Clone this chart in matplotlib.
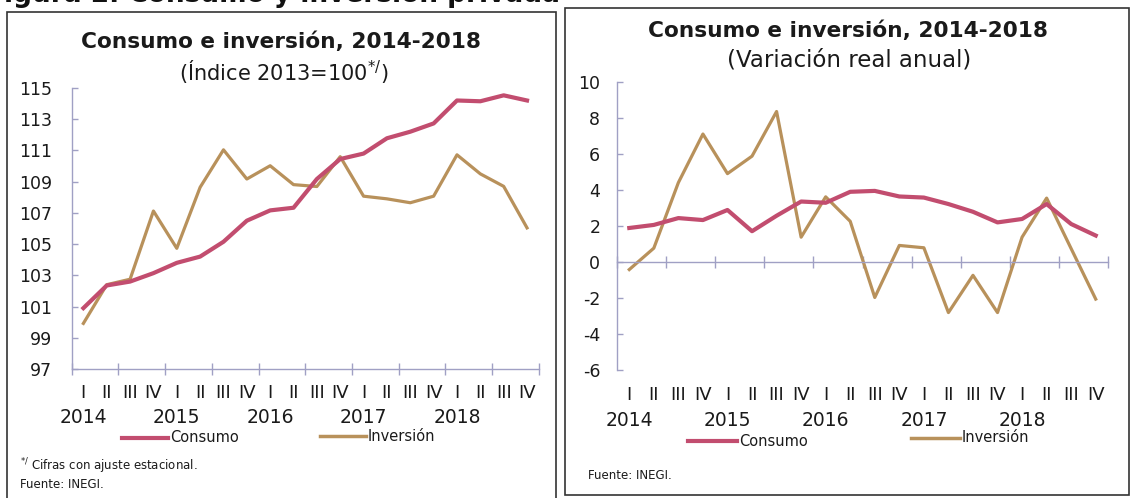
import matplotlib
matplotlib.use("Agg")
import matplotlib.pyplot as plt
from matplotlib.lines import Line2D
from matplotlib.patches import Rectangle
import matplotlib.transforms as mtransforms

# ---------------- data ----------------
quarters = ["I", "II", "III", "IV"] * 5
years = ["2014", "2015", "2016", "2017", "2018"]

consumo_indice = [100.9, 102.35, 102.6, 103.14, 103.8, 104.2, 105.15, 106.5, 107.16, 107.33,
                  109.17, 110.45, 110.8, 111.78, 112.2, 112.73, 114.2, 114.15, 114.53, 114.2]
inversion_indice = [99.92, 102.4, 102.75, 107.12, 104.73, 108.64, 111.04, 109.17, 110.02, 108.81,
                    108.69, 110.6, 108.07, 107.9, 107.65, 108.07, 110.72, 109.5, 108.7, 106.04]

consumo_var = [1.89, 2.06, 2.44, 2.33, 2.89, 1.71, 2.57, 3.36, 3.29, 3.9,
               3.95, 3.64, 3.58, 3.22, 2.79, 2.2, 2.39, 3.22, 2.11, 1.47]
inversion_var = [-0.42, 0.77, 4.41, 7.11, 4.91, 5.88, 8.36, 1.38, 3.62, 2.26,
                 -1.97, 0.92, 0.79, -2.81, -0.74, -2.81, 1.38, 3.55, 0.74, -2.06]

left_yticks = [97, 99, 101, 103, 105, 107, 109, 111, 113, 115]
right_yticks = [-6, -4, -2, 0, 2, 4, 6, 8, 10]

# ---------------- style ----------------
W, H = 1133, 498
C_CONS = "#c24d6f"
C_INV = "#b8915b"
C_AX = "#a0a0c4"
FONT = "DejaVu Sans"
plt.rcParams["font.family"] = [FONT]
plt.rcParams["axes.unicode_minus"] = False

fig = plt.figure(figsize=(W / 100, H / 100), dpi=100)
fig.patch.set_facecolor("white")


def fx(px):
    return px / W


def fy(py):
    return 1 - py / H


# partially visible heading at the very top (cut off by the scan in the original)
fig.text(fx(-14), fy(1.5), "Figura 2. Consumo y inversión privada", fontsize=19,
         fontweight="bold", color="#111111", ha="left", va="baseline", zorder=-2)

# panel boxes
fig.add_artist(Rectangle((fx(7), fy(505)), fx(556) - fx(7), fy(12) - fy(505),
                         transform=fig.transFigure, facecolor="white",
                         edgecolor="#333333", lw=1.2, zorder=-1))
fig.add_artist(Rectangle((fx(565), fy(495)), fx(1129) - fx(565), fy(8) - fy(495),
                         transform=fig.transFigure, facecolor="white",
                         edgecolor="#333333", lw=1.2, zorder=-1))


def style_axes(ax, zero_axis=False):
    ax.set_zorder(2)
    ax.set_facecolor("none")
    for s in ["top", "right"]:
        ax.spines[s].set_visible(False)
    ax.spines["left"].set_color(C_AX)
    ax.spines["bottom"].set_color(C_AX)
    ax.spines["left"].set_linewidth(1.0)
    ax.spines["bottom"].set_linewidth(1.0)
    if zero_axis:
        ax.spines["bottom"].set_position(("data", 0))
    ax.set_xlim(-0.5, 19.5)
    ax.set_xticks([-0.5 + 2 * k for k in range(11)])
    ax.set_xticklabels([])
    ax.tick_params(axis="x", direction="inout", length=8, width=1.0, color=C_AX)
    ax.tick_params(axis="y", direction="in", length=4, width=1.0, color=C_AX,
                   labelsize=12.5, labelcolor="#1a1a1a")


def quarter_labels(ax, y_roman, y_year):
    tr = mtransforms.blended_transform_factory(ax.transData, fig.transFigure)
    for i, q in enumerate(quarters):
        ax.text(i, fy(y_roman), q, transform=tr, ha="center", va="center",
                fontsize=13, color="#1a1a1a", clip_on=False)
    for k, yv in enumerate(years):
        ax.text(4 * k, fy(y_year), yv, transform=tr, ha="center", va="center",
                fontsize=13.5, color="#1a1a1a", clip_on=False)


x = list(range(len(quarters)))

# ---------------- left panel ----------------
axL = fig.add_axes([fx(71.7), fy(369), (538.7 - 71.7) / W, (369 - 88) / H])
style_axes(axL)
axL.set_ylim(97, 115)
axL.set_yticks(left_yticks)
axL.tick_params(axis="y", pad=14)
axL.plot(x, consumo_indice, color=C_CONS, lw=3.0, solid_joinstyle="round", zorder=3)
axL.plot(x, inversion_indice, color=C_INV, lw=2.3, solid_joinstyle="round", zorder=2)
quarter_labels(axL, 393, 417)

fig.text(fx(281), fy(42), "Consumo e inversión, 2014-2018", fontsize=15.6,
         fontweight="bold", ha="center", va="center", color="#1a1a1a")
fig.text(fx(284), fy(72), "(Índice 2013=100$^{*/}$)", fontsize=15,
         ha="center", va="center", color="#1a1a1a")

# legend left
fig.add_artist(Line2D([fx(122), fx(168)], [fy(438), fy(438)], color=C_CONS, lw=3.0,
                      transform=fig.transFigure))
fig.text(fx(170), fy(438), "Consumo", fontsize=10.5, ha="left", va="center", color="#1a1a1a")
fig.add_artist(Line2D([fx(320), fx(366)], [fy(436), fy(436)], color=C_INV, lw=2.5,
                      transform=fig.transFigure))
fig.text(fx(368), fy(436), "Inversión", fontsize=10.5, ha="left", va="center", color="#1a1a1a")

fig.text(fx(20), fy(466), "$^{*/}$ Cifras con ajuste estacional.", fontsize=8.5,
         ha="left", va="center", color="#1a1a1a")
fig.text(fx(20), fy(484), "Fuente: INEGI.", fontsize=8.5, ha="left", va="center",
         color="#1a1a1a")

# ---------------- right panel ----------------
axR = fig.add_axes([fx(617), fy(370), (1108 - 617) / W, (370 - 82) / H])
style_axes(axR, zero_axis=True)
axR.set_ylim(-6, 10)
axR.set_yticks(right_yticks)
axR.tick_params(axis="y", pad=12)
axR.plot(x, consumo_var, color=C_CONS, lw=3.0, solid_joinstyle="round", zorder=3)
axR.plot(x, inversion_var, color=C_INV, lw=2.3, solid_joinstyle="round", zorder=2)
quarter_labels(axR, 395, 421)

fig.text(fx(848), fy(31), "Consumo e inversión, 2014-2018", fontsize=15.6,
         fontweight="bold", ha="center", va="center", color="#1a1a1a")
fig.text(fx(849), fy(60), "(Variación real anual)", fontsize=16.5,
         ha="center", va="center", color="#1a1a1a")

fig.add_artist(Line2D([fx(688), fx(737)], [fy(441), fy(441)], color=C_CONS, lw=3.0,
                      transform=fig.transFigure))
fig.text(fx(739), fy(441), "Consumo", fontsize=10.5, ha="left", va="center", color="#1a1a1a")
fig.add_artist(Line2D([fx(911), fx(960)], [fy(438), fy(438)], color=C_INV, lw=2.5,
                      transform=fig.transFigure))
fig.text(fx(962), fy(438), "Inversión", fontsize=10.5, ha="left", va="center", color="#1a1a1a")

fig.text(fx(588), fy(475), "Fuente: INEGI.", fontsize=8.5, ha="left", va="center",
         color="#1a1a1a")

fig.savefig("out.png", dpi=100, facecolor="white")
